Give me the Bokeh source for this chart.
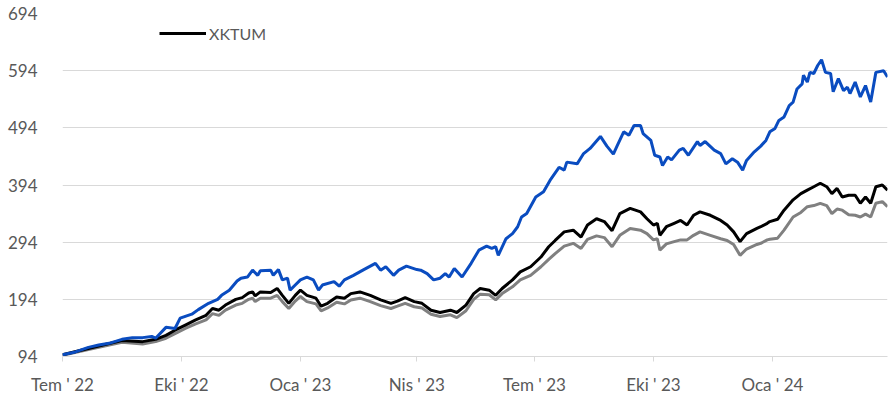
import pandas as pd
from bokeh.plotting import figure
from bokeh.models import Range1d, FixedTicker, Legend, LegendItem
from bokeh.embed import file_html
from bokeh.resources import INLINE

# x values: days since 2022-07-01
tick_days = [0, 92, 184, 274, 365, 457, 549]
tick_labels = ["Tem ' 22", "Eki ' 22", "Oca ' 23", "Nis ' 23", "Tem ' 23", "Eki ' 23", "Oca ' 24"]
y_ticks = [94, 194, 294, 394, 494, 594, 694]

blue_days = [0, 10, 20, 28, 36, 46, 54, 62, 69, 72,
             80, 87, 91, 100, 105, 113, 120, 123, 129, 135,
             138, 143, 147, 151, 153, 161, 163, 167, 170, 174,
             176, 180, 184, 189, 194, 198, 201, 210, 214, 218,
             225, 233, 242, 246, 250, 256, 260, 266, 274, 277,
             282, 287, 292, 296, 299, 303, 309, 316, 322, 328,
             332, 335, 337, 343, 348, 352, 355, 359, 366, 372,
             377, 384, 388, 390, 398, 403, 408, 416, 421, 426,
             429, 434, 438, 442, 447, 449, 455, 458, 462, 464,
             468, 471, 477, 480, 484, 491, 493, 497, 504, 509,
             513, 518, 522, 526, 529, 535, 540, 544, 547, 551,
             554, 558, 562, 565, 568, 572, 573, 576, 578, 581,
             584, 587, 590, 594, 596, 600, 604, 607, 609, 613,
             617, 621, 625, 629, 635, 638]
blue_vals = [97, 102, 110, 114, 117, 124, 127, 127, 129, 126,
             145, 143, 161, 168, 176, 187, 194, 201, 210, 226,
             231, 233, 245, 236, 244, 245, 236, 246, 228, 231,
             210, 219, 228, 233, 228, 210, 219, 225, 217, 228,
             236, 246, 257, 245, 251, 236, 245, 252, 246, 245,
             239, 228, 231, 239, 233, 248, 233, 257, 280, 287,
             283, 286, 271, 300, 309, 321, 338, 344, 373, 382,
             402, 425, 420, 434, 431, 449, 458, 479, 462, 448,
             463, 487, 481, 498, 498, 484, 472, 446, 443, 428,
             443, 438, 455, 458, 446, 470, 463, 470, 455, 449,
             431, 440, 434, 420, 437, 452, 462, 472, 487, 493,
             507, 513, 533, 539, 562, 571, 586, 574, 591, 589,
             603, 613, 591, 589, 557, 580, 559, 565, 554, 574,
             548, 568, 539, 591, 594, 583]

xktum_days = [0, 20, 46, 62, 72, 80, 87, 95, 103, 111,
              116, 121, 126, 134, 139, 144, 147, 149, 153, 161,
              166, 170, 175, 180, 184, 189, 196, 200, 205, 212,
              218, 223, 230, 238, 246, 254, 259, 265, 272, 278,
              285, 292, 300, 305, 312, 318, 323, 330, 335, 340,
              348, 354, 362, 370, 376, 381, 388, 395, 401, 406,
              413, 419, 425, 431, 439, 447, 452, 457, 460, 462,
              467, 473, 478, 483, 488, 493, 501, 509, 514, 519,
              524, 529, 537, 540, 545, 547, 553, 558, 565, 571,
              576, 581, 586, 591, 595, 599, 603, 608, 613, 617,
              621, 625, 629, 634, 638]
xktum_vals = [97, 108, 122, 120, 124, 131, 140, 149, 158, 166,
              178, 175, 184, 194, 197, 205, 207, 200, 207, 206,
              213, 201, 187, 201, 210, 201, 196, 182, 187, 198,
              196, 204, 207, 201, 193, 187, 191, 197, 190, 187,
              175, 171, 175, 171, 184, 204, 213, 210, 201, 213,
              228, 242, 251, 268, 286, 297, 312, 315, 303, 324,
              335, 330, 314, 344, 353, 347, 335, 324, 327, 306,
              321, 327, 332, 324, 341, 347, 341, 332, 324, 312,
              295, 309, 318, 321, 327, 330, 334, 350, 368, 379,
              385, 391, 397, 391, 379, 388, 373, 376, 376, 362,
              373, 362, 391, 394, 385]
gray_vals = [96, 106, 119, 116, 120, 126, 134, 143, 151, 158,
             169, 166, 175, 184, 187, 194, 196, 190, 196, 196,
             201, 190, 178, 191, 199, 190, 186, 174, 179, 189,
             186, 193, 196, 190, 183, 178, 182, 187, 181, 179,
             168, 164, 167, 162, 174, 194, 203, 202, 193, 204,
             216, 228, 236, 251, 264, 274, 287, 292, 283, 299,
             305, 302, 286, 306, 318, 315, 309, 298, 300, 280,
             291, 295, 298, 298, 306, 312, 306, 300, 297, 290,
             271, 282, 290, 292, 298, 299, 301, 315, 338, 346,
             356, 358, 362, 358, 344, 352, 350, 342, 341, 338,
             343, 338, 362, 365, 356]

FONT = "Lato"
TXT = "#595959"
GRID = "#d9d9d9"

p = figure(width=893, height=401, output_backend="svg", toolbar_location=None,
           x_range=Range1d(0, 638), y_range=Range1d(94, 694),
           min_border_left=62, min_border_right=6, min_border_top=13, min_border_bottom=45)
p.outline_line_color = None
p.background_fill_color = "white"

p.line(xktum_days, gray_vals, line_color="#808080", line_width=3)
r_black = p.line(xktum_days, xktum_vals, line_color="#000000", line_width=3)
p.line(blue_days, blue_vals, line_color="#0a4cc0", line_width=3)

p.xgrid.visible = False
p.ygrid.grid_line_color = GRID
p.ygrid.grid_line_width = 1
p.ygrid.ticker = FixedTicker(ticks=y_ticks)

xa = p.xaxis[0]
xa.ticker = FixedTicker(ticks=tick_days)
xa.major_label_overrides = {d: lab for d, lab in zip(tick_days, tick_labels)}
xa.axis_line_color = GRID
xa.major_tick_line_color = GRID
xa.major_tick_in = 0
xa.major_tick_out = 5
xa.minor_tick_line_color = None
xa.major_label_standoff = 12
xa.major_label_text_font = FONT
xa.major_label_text_font_size = "17px"
xa.major_label_text_color = TXT

ya = p.yaxis[0]
ya.ticker = FixedTicker(ticks=y_ticks)
ya.axis_line_color = None
ya.major_tick_line_color = None
ya.minor_tick_line_color = None
ya.major_label_standoff = 19
ya.major_label_text_font = FONT
ya.major_label_text_font_size = "17px"
ya.major_label_text_color = TXT

legend = Legend(items=[LegendItem(label="XKTUM", renderers=[r_black])],
                location=(97, 313), border_line_color=None, background_fill_alpha=0,
                padding=0, margin=0, glyph_width=47, glyph_height=20, label_standoff=3,
                label_text_font=FONT, label_text_font_size="16px", label_text_color=TXT,
                spacing=0)
p.add_layout(legend)

open("out.html", "w").write(file_html(p, INLINE))
